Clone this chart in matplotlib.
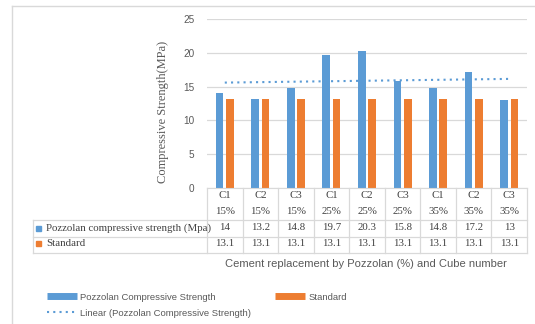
import matplotlib
matplotlib.use("Agg")
import matplotlib.pyplot as plt
import numpy as np
from matplotlib.lines import Line2D
from matplotlib.patches import Rectangle
from matplotlib.transforms import blended_transform_factory

# dados do ensaio (MPa)
cubos = ["C1", "C2", "C3"] * 3
substituicao = ["15%"] * 3 + ["25%"] * 3 + ["35%"] * 3
pozolana = [14, 13.2, 14.8, 19.7, 20.3, 15.8, 14.8, 17.2, 13]
padrao = [13.1] * 9
rotulos_linhas = ["Pozzolan compressive strength (Mpa)", "Standard"]

AZUL, LARANJA = "#5B9BD5", "#ED7D31"
CINZA, GRADE = "#595959", "#D9D9D9"
SANS, SERIF = "Liberation Sans", "Liberation Serif"

W, H = 535, 324
fig = plt.figure(figsize=(W / 100, H / 100), dpi=100)
fx = lambda px: px / W
fy = lambda py: 1 - py / H

ax = fig.add_axes([fx(207), fy(188), fx(527) - fx(207), fy(19) - fy(188)])
x = np.arange(len(pozolana))
ax.bar(x - 0.145, pozolana, 0.215, color=AZUL, zorder=2)
ax.bar(x + 0.145, padrao, 0.215, color=LARANJA, zorder=2)
a, b = np.polyfit(x, pozolana, 1)
ax.plot(x, a * x + b, ls=(0, (1, 2)), lw=1.5, color=AZUL, zorder=3)

ax.set_xlim(-0.5, 8.5)
ax.set_ylim(0, 25)
ax.set_yticks(range(0, 26, 5))
ax.set_xticks([])
ax.grid(axis="y", color=GRADE, lw=0.9)
ax.set_axisbelow(True)
for s in ["top", "right", "left"]:
    ax.spines[s].set_visible(False)
ax.spines["bottom"].set_color(GRADE)
ax.tick_params(axis="y", length=0, pad=9, labelsize=7.2, labelcolor=CINZA)
for t in ax.get_yticklabels():
    t.set_family(SANS)

# tabela de dados sob o eixo
tr = blended_transform_factory(ax.transData, fig.transFigure)
for k in range(len(x) + 1):
    fig.add_artist(Line2D([k - 0.5] * 2, [fy(188), fy(253)], color=GRADE, lw=0.9, transform=tr))
for py in (220, 237, 253):
    fig.add_artist(Line2D([fx(33), fx(527)], [fy(py)] * 2, color=GRADE, lw=0.9))
fig.add_artist(Line2D([fx(33)] * 2, [fy(220), fy(253)], color=GRADE, lw=0.9))

kw = dict(transform=tr, ha="center", va="center", family=SERIF, fontsize=7.8, color="#404040")
for i in x:
    fig.text(i, fy(196), cubos[i], **kw)
    fig.text(i, fy(211), substituicao[i], **kw)
    fig.text(i, fy(228), f"{pozolana[i]:g}", **kw)
    fig.text(i, fy(244), f"{padrao[i]:g}", **kw)
for rot, cor, py in zip(rotulos_linhas, [AZUL, LARANJA], [228, 243]):
    fig.add_artist(Rectangle((fx(36), fy(py + 2.5)), fx(5), fy(0) - fy(5), color=cor))
    fig.text(fx(46), fy(py), rot, ha="left", va="center", family=SERIF, fontsize=7.8, color="#404040")

fig.text(fx(163), fy(112), "Compressive Strength(MPa)", rotation=90, ha="center", va="center",
         family=SERIF, fontsize=9, color=CINZA)
fig.text(fx(366), fy(264), "Cement replacement by Pozzolan (%) and Cube number", ha="center",
         va="center", family=SANS, fontsize=8, color=CINZA)

hs = [Line2D([], [], color=AZUL, lw=5, solid_capstyle="butt"),
      Line2D([], [], color=AZUL, lw=1.5, ls=(0, (1, 2))),
      Line2D([], [], color=LARANJA, lw=5, solid_capstyle="butt")]
nomes = ["Pozzolan Compressive Strength", "Linear (Pozzolan Compressive Strength)", "Standard"]
leg = fig.legend(hs, nomes, ncol=2, loc="upper left", bbox_to_anchor=(fx(38), fy(284)),
                 frameon=False, prop={"family": SANS, "size": 6.8}, handlelength=3.2,
                 handletextpad=0.3, columnspacing=2.6, labelspacing=0.75)
for t in leg.get_texts():
    t.set_color(CINZA)

# moldura externa
fig.add_artist(Line2D([fx(12)] * 2, [fy(6), 0], color=GRADE, lw=1))
fig.add_artist(Line2D([fx(12), 1], [fy(6)] * 2, color=GRADE, lw=1))

fig.savefig("out.png", dpi=100)
